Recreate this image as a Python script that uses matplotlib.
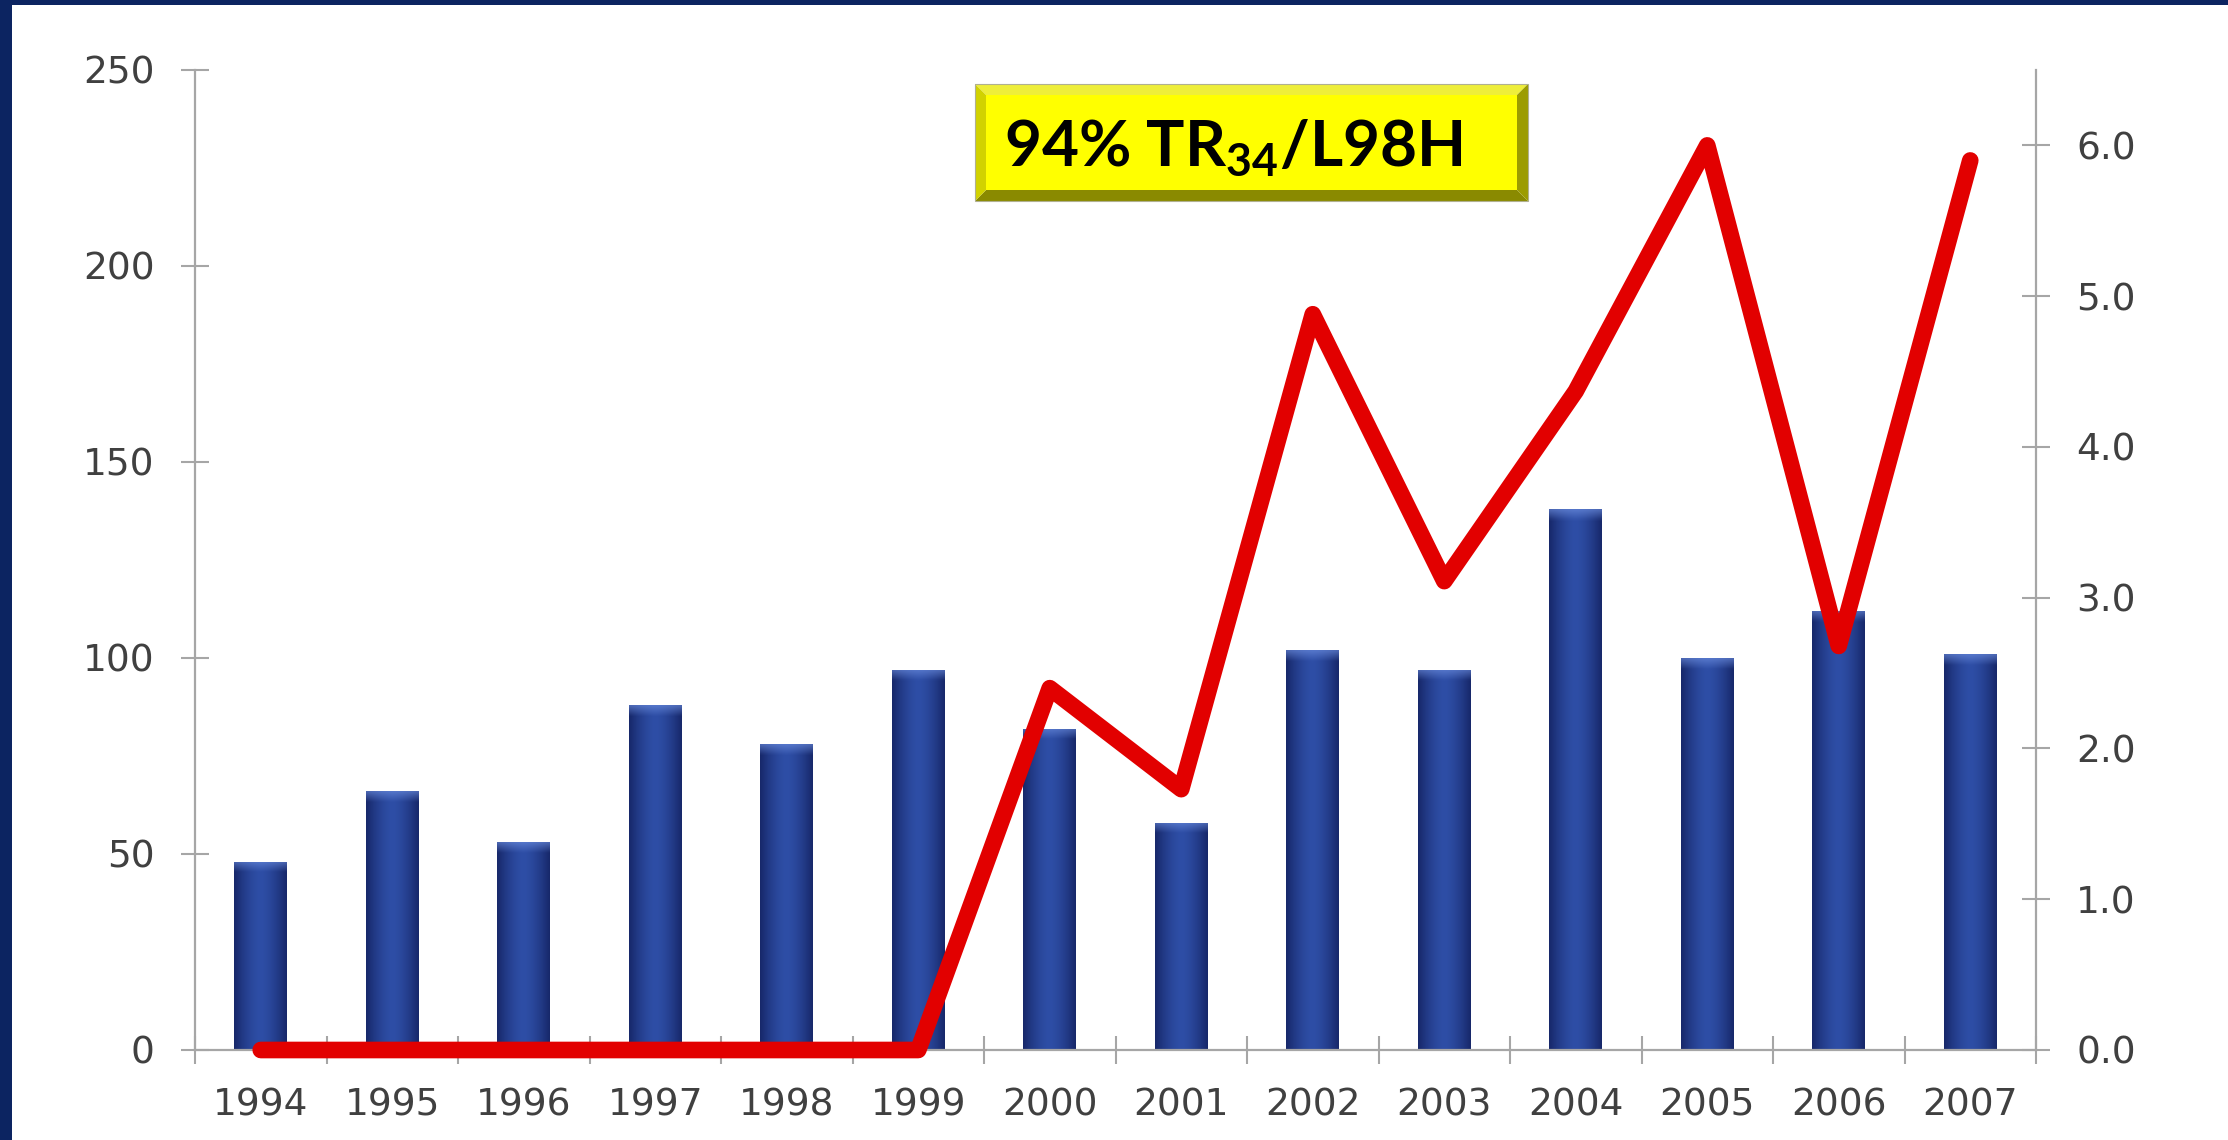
import matplotlib
matplotlib.use("Agg")
import matplotlib.pyplot as plt
import numpy as np
from matplotlib.patches import Rectangle, Polygon
from matplotlib.colors import to_rgb

# ---- data ----
years = ["1994", "1995", "1996", "1997", "1998", "1999", "2000",
         "2001", "2002", "2003", "2004", "2005", "2006", "2007"]
isolates = [48, 66, 53, 88, 78, 97, 82, 58, 102, 97, 138, 100, 112, 101]
resistance_pct = [0.0, 0.0, 0.0, 0.0, 0.0, 0.0, 2.40, 1.73, 4.88, 3.11, 4.37, 6.0, 2.68, 5.90]
left_ticks = [0, 50, 100, 150, 200, 250]
right_ticks = [0.0, 1.0, 2.0, 3.0, 4.0, 5.0, 6.0]
label_text = "94% TR$_{\\mathbf{34}}$/L98H"

NAVY, AXGREY, TXT, RED = "#0c2461", "#a6a6a6", "#404040", "#e20000"
BAR_EDGE, BAR_MID, BAR_TOP = "#17286a", "#2e4ea6", "#6d8fe0"

plt.rcParams.update({"mathtext.fontset": "custom", "mathtext.rm": "Lato",
                     "mathtext.bf": "Lato:bold"})

W, H = 2228, 1140
fig = plt.figure(figsize=(W / 100, H / 100), dpi=100)
fig.patch.set_facecolor("white")
ax = fig.add_axes([195 / W, 1 - 1050 / H, (2036 - 195) / W, (1050 - 70) / H])
ax2 = ax.twinx()

x = np.arange(len(years))
bars = ax.bar(x, isolates, 0.40, color=BAR_MID, zorder=2, lw=0)

# shaded cylinder look: dark edges, light centre, pale cap at the top
edge, mid, top = np.array(to_rgb(BAR_EDGE)), np.array(to_rgb(BAR_MID)), np.array(to_rgb(BAR_TOP))
u = np.linspace(-1, 1, 60)
prof = 1 - np.abs(u) ** 1.6
row = edge[None, :] * (1 - prof[:, None]) + mid[None, :] * prof[:, None]
for p in bars:
    x0, w, h = p.get_x(), p.get_width(), p.get_height()
    n = 200
    ys = np.linspace(0, h, n)
    img = np.repeat(row[None, :, :], n, axis=0)
    cap = np.clip((ys - (h - 2.6)) / 2.6, 0, 1)[:, None, None]
    img = img * (1 - cap * 0.6) + top[None, None, :] * cap * 0.6
    im = ax.imshow(img, extent=[x0, x0 + w, 0, h], origin="lower", aspect="auto",
                   interpolation="bilinear", zorder=2)
    im.set_clip_path(p)

ax2.plot(x, resistance_pct, color=RED, lw=12, solid_capstyle="round",
         solid_joinstyle="round", zorder=3, clip_on=False)

ax.set_xlim(-0.5, len(years) - 0.5)
ax.set_ylim(0, 250)
ax2.set_ylim(0, 6.5)
ax.set_yticks(left_ticks)
ax.set_yticklabels([str(v) for v in left_ticks])
ax2.set_yticks(right_ticks)
ax2.set_yticklabels([f"{v:.1f}" for v in right_ticks])
ax.set_xticks(x)
ax.set_xticklabels(years)
ax.set_xticks(np.arange(-0.5, len(years)), minor=True)

for a in (ax, ax2):
    for s in a.spines.values():
        s.set_color(AXGREY)
        s.set_linewidth(1.6)
    a.spines["top"].set_visible(False)
ax.spines["right"].set_visible(False)
ax2.spines["left"].set_visible(False)
ax2.spines["bottom"].set_visible(False)

ax.tick_params(axis="y", direction="inout", length=20, width=1.5, color=AXGREY,
               labelsize=27, labelcolor=TXT, pad=19)
ax2.tick_params(axis="y", direction="inout", length=20, width=1.5, color=AXGREY,
                labelsize=27, labelcolor=TXT, pad=19)
ax.tick_params(axis="x", which="major", length=0, labelsize=27, labelcolor=TXT, pad=27)
ax.tick_params(axis="x", which="minor", direction="inout", length=20, width=1.5, color=AXGREY)

# navy slide frame
fig.add_artist(Rectangle((0, 0), 12 / W, 1, transform=fig.transFigure, color=NAVY, lw=0))
fig.add_artist(Rectangle((0, 1 - 5 / H), 1, 5 / H, transform=fig.transFigure, color=NAVY, lw=0))

# bevelled yellow label box (pixel coords -> figure fraction)
L, R, T, B, b = 975, 1528, 84, 201, 11
def P(pts):
    return [(px / W, 1 - py / H) for px, py in pts]
for pts, col in [
    ([(L, T), (R, T), (R - b, T + b), (L + b, T + b)], "#eeee3a"),
    ([(L, B), (R, B), (R - b, B - b), (L + b, B - b)], "#8a8a00"),
    ([(L, T), (L + b, T + b), (L + b, B - b), (L, B)], "#d2d200"),
    ([(R, T), (R - b, T + b), (R - b, B - b), (R, B)], "#9c9c00"),
    ([(L + b, T + b), (R - b, T + b), (R - b, B - b), (L + b, B - b)], "#ffff00"),
]:
    fig.add_artist(Polygon(P(pts), closed=True, transform=fig.transFigure,
                           facecolor=col, edgecolor="none"))
fig.add_artist(Polygon(P([(L, T), (R, T), (R, B), (L, B)]), closed=True,
                       transform=fig.transFigure, facecolor="none",
                       edgecolor="#b0b090", lw=0.8))
fig.text(1004 / W, 1 - 165 / H, label_text, fontsize=46, fontfamily="Lato",
         fontweight="bold", color="black", ha="left", va="baseline")

fig.savefig("out.png", dpi=100)
